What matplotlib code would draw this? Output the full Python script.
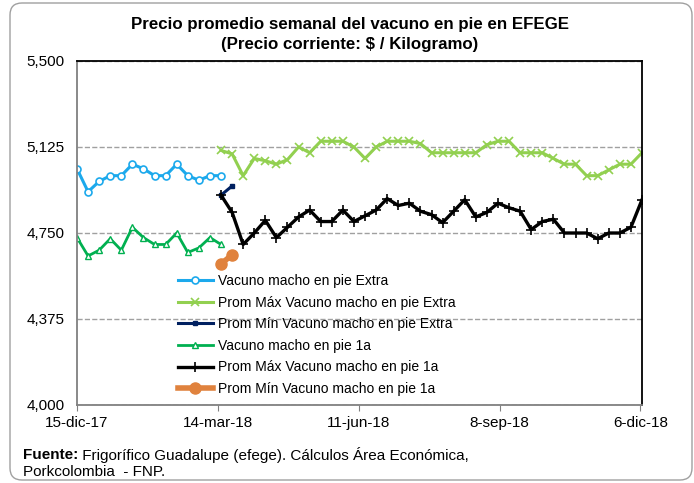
import matplotlib
matplotlib.use('Agg')
import matplotlib.pyplot as plt
from matplotlib.patches import FancyBboxPatch
import pandas as pd

plt.rcParams['font.family'] = ['Liberation Sans', 'DejaVu Sans']

# weekly dates, 15-dic-17 .. 7-dic-18
dates = pd.date_range('2017-12-15', periods=52, freq='7D')

extra = [5030, 4930, 4975, 5000, 5000, 5050, 5030, 5000, 5000, 5050, 5000, 4980, 5000, 5000]
primera = [4730, 4650, 4675, 4725, 4675, 4775, 4730, 4700, 4700, 4750, 4665, 4685, 4730, 4700]

max_extra = [5110, 5095, 5000, 5075, 5065, 5050, 5070, 5125, 5100, 5150,
             5150, 5150, 5125, 5075, 5125, 5150, 5150, 5150, 5140, 5100,
             5100, 5100, 5100, 5100, 5135, 5150, 5150, 5100, 5100, 5100,
             5075, 5050, 5050, 5000, 5000, 5025, 5050, 5050, 5100]
max_1a = [4915, 4840, 4700, 4750, 4805, 4730, 4775, 4820, 4850, 4800,
          4800, 4850, 4800, 4825, 4850, 4900, 4870, 4880, 4845, 4830,
          4795, 4845, 4895, 4820, 4840, 4880, 4860, 4845, 4765, 4800,
          4810, 4750, 4750, 4750, 4725, 4750, 4750, 4775, 4895]
min_extra = [4915, 4955]
min_1a = [4615, 4655]

labels = ['Vacuno macho en pie Extra',
          'Prom Máx Vacuno macho en pie Extra',
          'Prom Mín Vacuno macho en pie Extra',
          'Vacuno macho en pie 1a',
          'Prom Máx Vacuno macho en pie 1a',
          'Prom Mín Vacuno macho en pie 1a']

d1 = dates[:14]
d2 = dates[13:]
d3 = dates[13:15]

fig = plt.figure(figsize=(6.94, 4.83), dpi=100)
ax = fig.add_axes([77/694, 1-405/483, 565/694, 344/483])

ax.plot(d1, extra, color='#1CA9EC', lw=2.2, marker='o', ms=5, mfc='white', mew=1.2, label=labels[0])
ax.plot(d2, max_extra, color='#92D050', lw=2.2, marker='x', ms=6, mew=1.2, label=labels[1])
ax.plot(d3, min_extra, color='#002060', lw=2.2, marker='s', ms=2.5, label=labels[2])
ax.plot(d1, primera, color='#00B050', lw=2.0, marker='^', ms=5, mfc='white', mew=1.0, label=labels[3])
ax.plot(d2, max_1a, color='black', lw=2.4, marker='+', ms=7, mew=1.2, label=labels[4])
ax.plot(d3, min_1a, color='#E0823D', lw=4, marker='o', ms=8, label=labels[5])

ax.set_ylim(4000, 5500)
ax.set_yticks([4000, 4375, 4750, 5125, 5500])
ax.set_yticklabels(['4,000', '4,375', '4,750', '5,125', '5,500'])
ticks = [pd.Timestamp(s) for s in ['2017-12-15', '2018-03-14', '2018-06-11', '2018-09-08', '2018-12-06']]
ax.set_xlim(dates[0], dates[-1])
ax.set_xticks(ticks)
ax.set_xticklabels(['15-dic-17', '14-mar-18', '11-jun-18', '8-sep-18', '6-dic-18'])
ax.tick_params(axis='both', labelsize=11)
ax.tick_params(axis='y', length=0, pad=9)
ax.tick_params(axis='x', length=4, color='#808080', pad=4)
ax.grid(axis='y', color='#A0A0A0', ls='--', lw=1)
ax.set_axisbelow(True)

for s in ['left', 'bottom']:
    ax.spines[s].set_color('#808080')
    ax.spines[s].set_linewidth(1.3)
for s in ['top', 'right']:
    ax.spines[s].set_color('black')
    ax.spines[s].set_linewidth(1.3)

ax.legend(loc='upper left', bbox_to_anchor=(0.179, 0.381), frameon=False, fontsize=10,
          handlelength=2.5, handletextpad=0.35, labelspacing=0.55, borderpad=0, borderaxespad=0)

fig.text(350/694, 1-25/483, 'Precio promedio semanal del vacuno en pie en EFEGE',
         ha='center', va='center', fontsize=12.2, fontweight='bold')
fig.text(350/694, 1-45/483, '(Precio corriente: $ / Kilogramo)',
         ha='center', va='center', fontsize=12.2, fontweight='bold')

t1 = fig.text(23/694, 1-455/483, 'Fuente:', ha='left', va='center', fontsize=11, fontweight='bold')
fig.text(23/694, 1-472/483, 'Porkcolombia  - FNP.', ha='left', va='center', fontsize=11)
ax.annotate(' Frigorífico Guadalupe (efege). Cálculos Área Económica,', xy=(1, 0.5), xycoords=t1,
            ha='left', va='center', fontsize=11, annotation_clip=False)

border = FancyBboxPatch((10, 3), 682, 477, boxstyle='round,pad=0,rounding_size=12',
                        transform=None, fill=False, edgecolor='#A0A0A0', lw=1)
fig.add_artist(border)

fig.savefig('out.png', dpi=100)
